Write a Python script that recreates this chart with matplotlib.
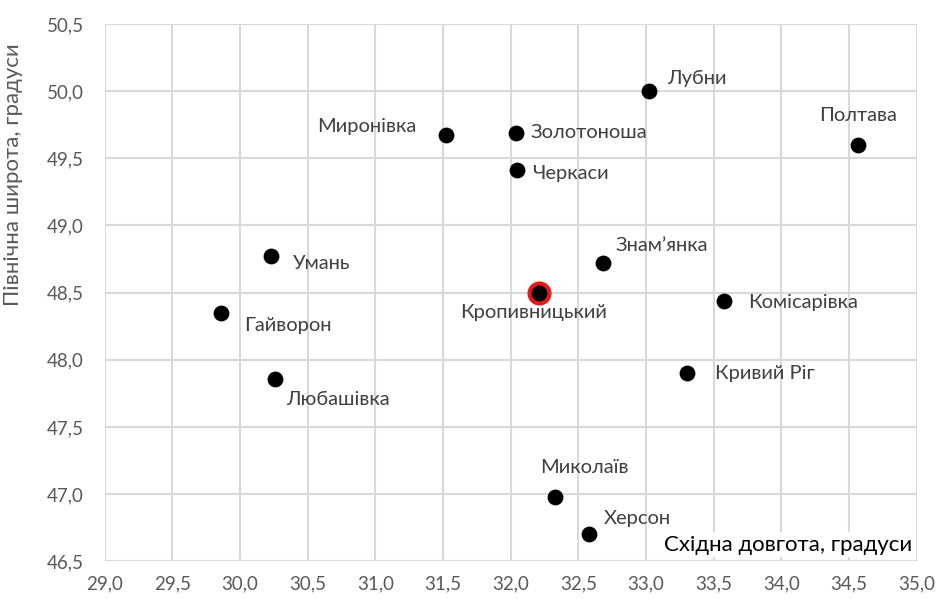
import matplotlib
matplotlib.use("Agg")
import matplotlib.pyplot as plt
from matplotlib.ticker import FuncFormatter, MultipleLocator

cities = ["Лубни", "Полтава", "Миронівка", "Золотоноша", "Черкаси", "Умань",
          "Знам’янка", "Кропивницький", "Комісарівка", "Гайворон", "Кривий Ріг",
          "Любашівка", "Миколаїв", "Херсон"]
lon = [33.02, 34.57, 31.52, 32.04, 32.05, 30.23, 32.68, 32.21, 33.58, 29.86, 33.30, 30.26, 32.33, 32.58]
lat = [50.00, 49.60, 49.67, 49.69, 49.41, 48.77, 48.72, 48.50, 48.44, 48.35, 47.90, 47.86, 46.98, 46.70]
highlight = "Кропивницький"

# label offsets in pixels (dx, dy, ha)
offsets = {
    "Лубни": (18, 13, "left"),
    "Полтава": (0, 29, "center"),
    "Миронівка": (-29, 9, "right"),
    "Золотоноша": (14, 0, "left"),
    "Черкаси": (15, -3, "left"),
    "Умань": (22, -7, "left"),
    "Знам’янка": (13, 18, "left"),
    "Кропивницький": (-5, -20, "center"),
    "Комісарівка": (24, -2, "left"),
    "Гайворон": (23, -13, "left"),
    "Кривий Ріг": (28, 0, "left"),
    "Любашівка": (11, -21, "left"),
    "Миколаїв": (-15, 29, "left"),
    "Херсон": (15, 16, "left"),
}

plt.rcParams['font.family'] = ['Lato', 'DejaVu Sans']

fig = plt.figure(figsize=(9.43, 5.99), dpi=100)
ax = fig.add_axes([0.111, 0.063, 0.861, 0.897])

hi = cities.index(highlight)
ax.scatter([lon[hi]], [lat[hi]], s=300, color="#e31a1c", zorder=3, linewidths=0)
ax.scatter(lon, lat, s=130, color="black", zorder=4, linewidths=0)

for name, x, y in zip(cities, lon, lat):
    dx, dy, ha = offsets[name]
    ax.annotate(name, (x, y), xytext=(dx, dy), textcoords="offset pixels",
                ha=ha, va="center", fontsize=14.5, color="#404040", zorder=5)

ax.set_xlim(29.0, 35.0)
ax.set_ylim(46.5, 50.5)
ax.xaxis.set_major_locator(MultipleLocator(0.5))
ax.yaxis.set_major_locator(MultipleLocator(0.5))
fmt = FuncFormatter(lambda v, p: f"{v:.1f}".replace(".", ","))
ax.xaxis.set_major_formatter(fmt)
ax.yaxis.set_major_formatter(fmt)
ax.grid(True, color="#d9d9d9", linewidth=1.5)
ax.set_axisbelow(True)
for s in ax.spines.values():
    s.set_visible(False)
ax.tick_params(length=0, labelsize=13.5, labelcolor="#595959")
ax.tick_params(axis="y", pad=15)
ax.tick_params(axis="x", pad=10)

ax.set_ylabel("Північна широта, градуси", fontsize=16, color="#595959")
ax.yaxis.set_label_coords(-0.1, 0.72)
ax.text(0.995, 0.012, "Східна довгота, градуси", transform=ax.transAxes,
        ha="right", va="bottom", fontsize=16, color="black",
        bbox=dict(facecolor="white", edgecolor="none", pad=2), zorder=6)

fig.savefig("out.png", dpi=100, facecolor="white")
